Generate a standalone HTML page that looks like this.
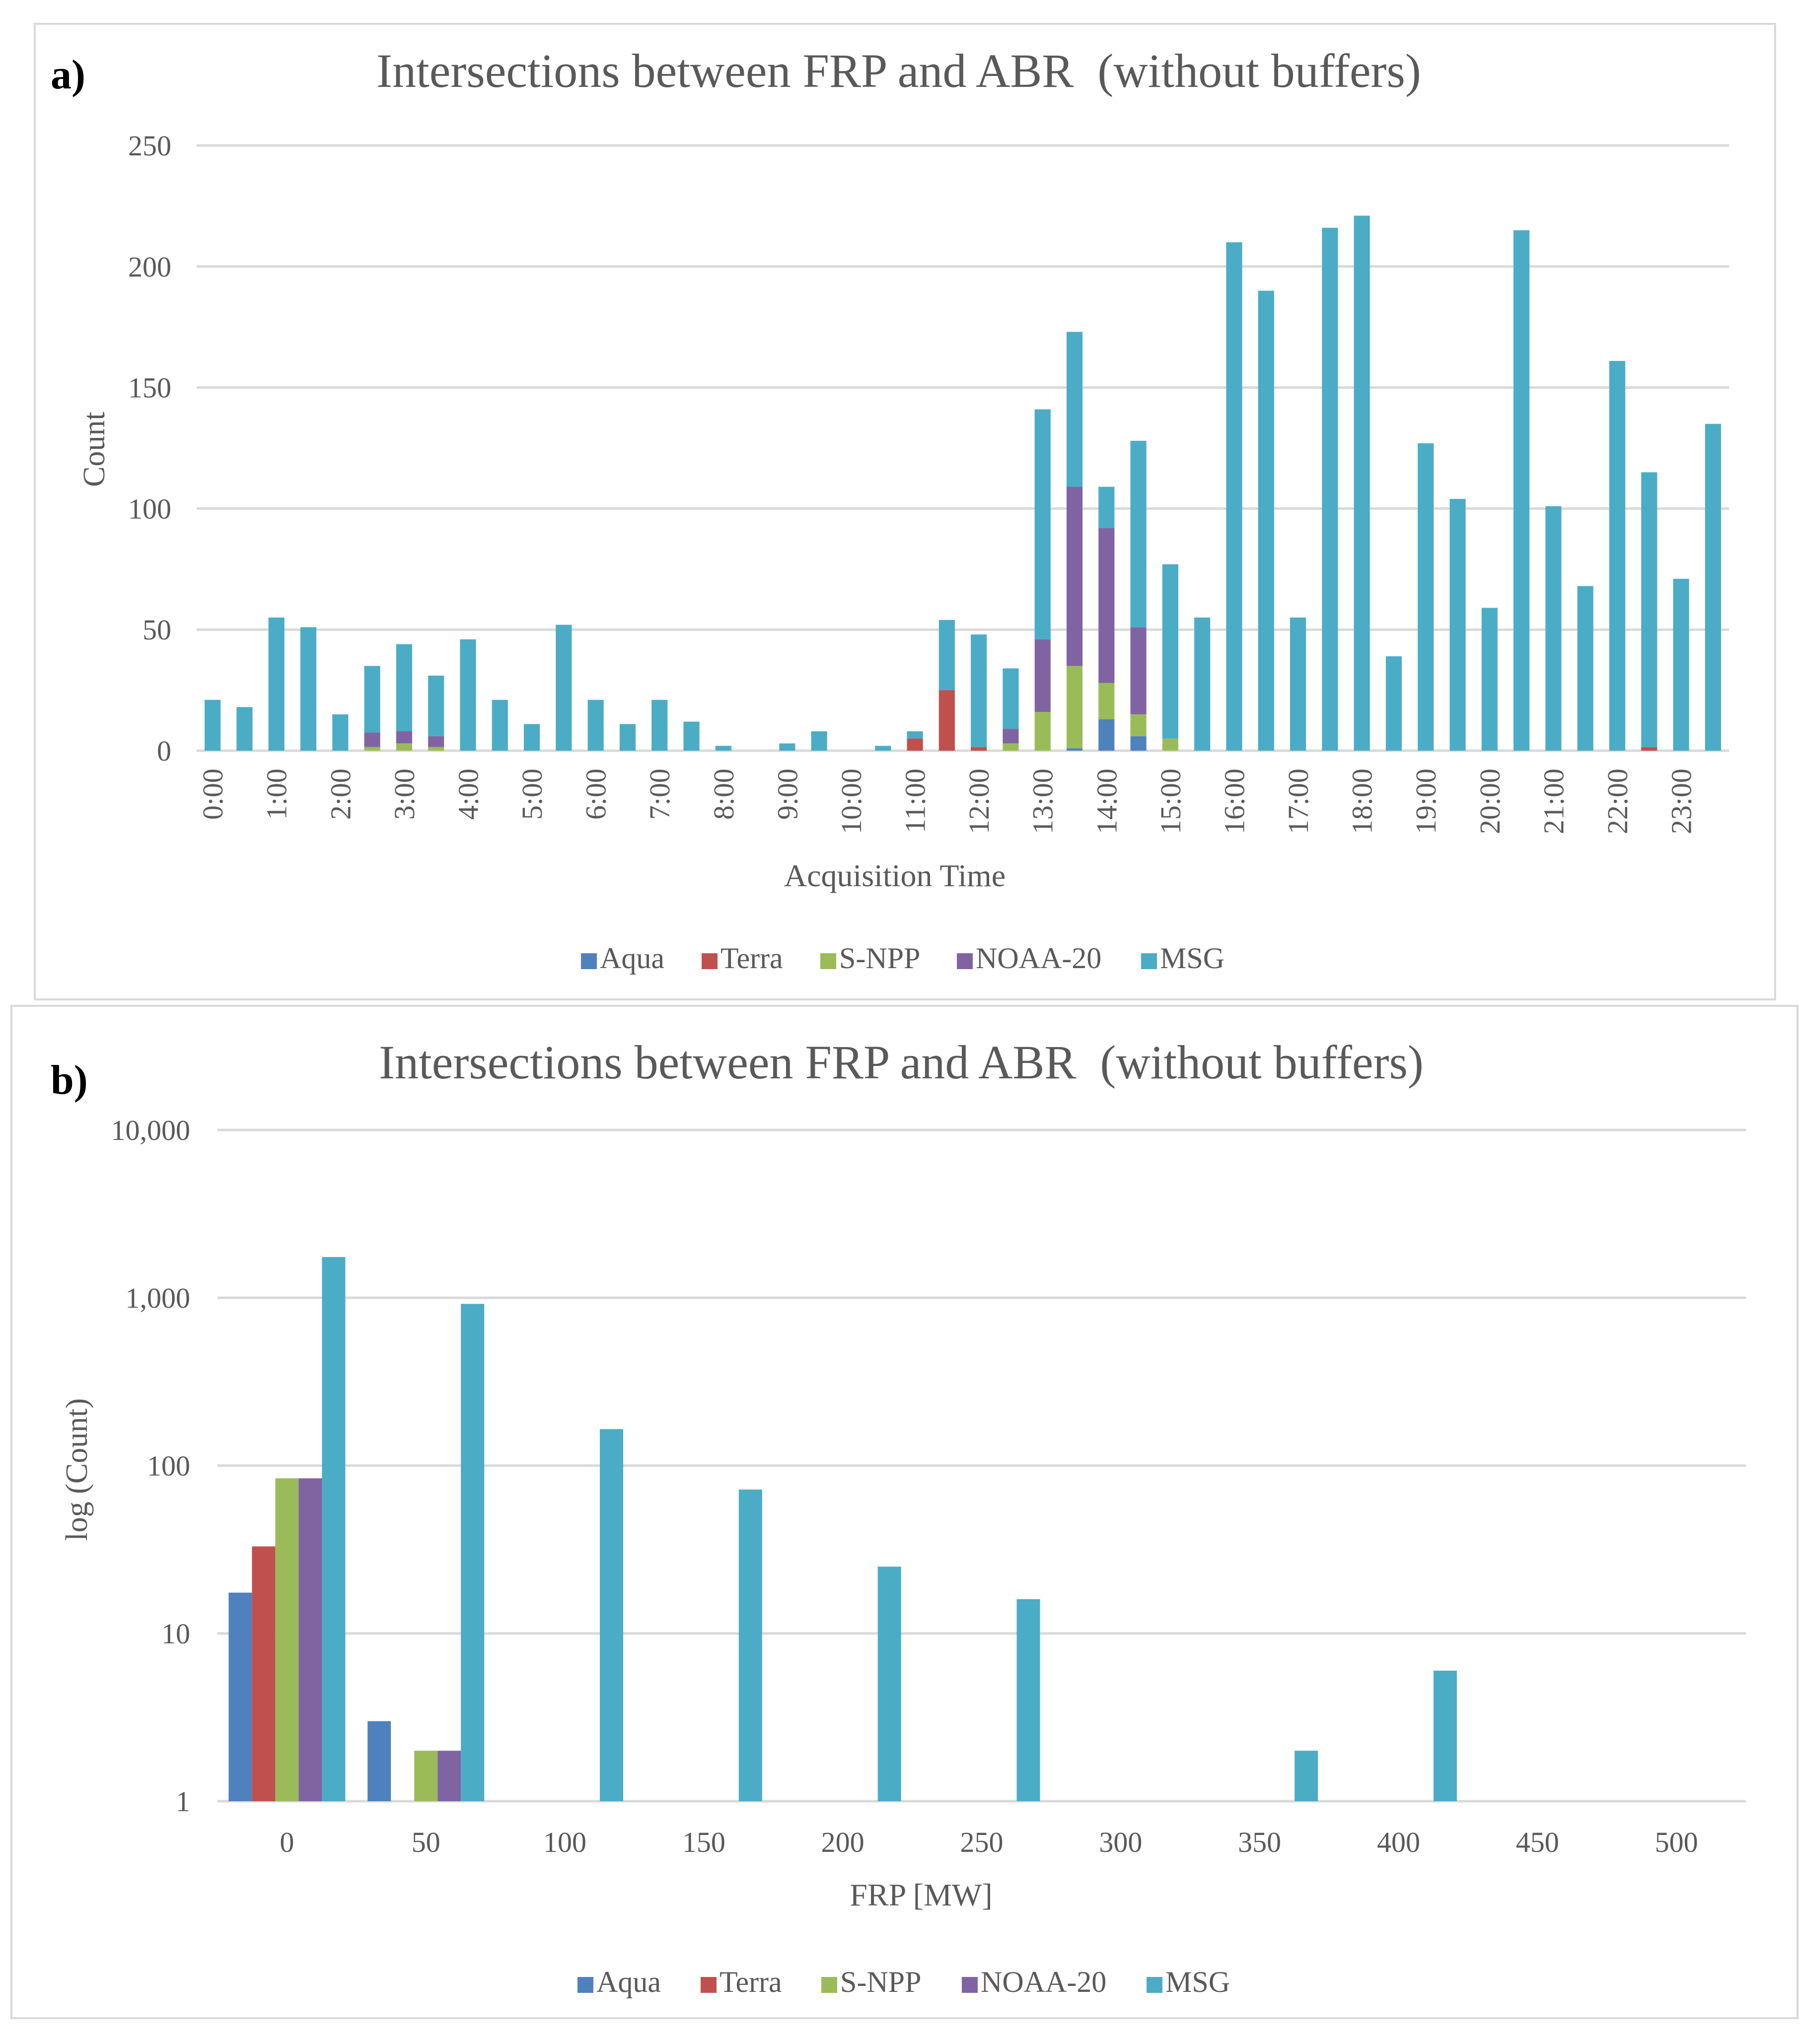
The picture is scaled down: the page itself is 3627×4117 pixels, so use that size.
<!DOCTYPE html>
<html><head><meta charset="utf-8">
<style>
html,body{margin:0;padding:0;background:#fff;}
svg text{font-family:"Liberation Serif",serif;fill:#595959;}
</style></head>
<body>
<svg id="chart" width="3627" height="4112" viewBox="0 0 3627 4112" xmlns="http://www.w3.org/2000/svg">
<rect x="0" y="0" width="3627" height="4112" fill="#fff"/>
<rect x="70" y="48" width="3505" height="1965" fill="none" stroke="#d9d9d9" stroke-width="4"/>
<rect x="23" y="2026" width="3597" height="2039" fill="none" stroke="#d9d9d9" stroke-width="4"/>
<text x="102" y="178" font-size="84" font-weight="bold" style="fill:#000">a)</text>
<text x="1810" y="175" font-size="96" text-anchor="middle" xml:space="preserve">Intersections between FRP and ABR  (without buffers)</text>
<text x="102" y="2203" font-size="84" font-weight="bold" style="fill:#000">b)</text>
<text x="1815" y="2172" font-size="96" text-anchor="middle" xml:space="preserve">Intersections between FRP and ABR  (without buffers)</text>
<g id="ga"></g>
<g id="gb"></g>
<text transform="translate(210,905) rotate(-90)" font-size="62" text-anchor="middle">Count</text>
<text x="1802" y="1785" font-size="64" text-anchor="middle">Acquisition Time</text>
<text transform="translate(175,2960) rotate(-90)" font-size="62" text-anchor="middle">log (Count)</text>
<text x="1855" y="3838" font-size="64" text-anchor="middle">FRP [MW]</text>
</svg>
<script>
// ---- Panel a data ----
const timeCats = ["0:00","0:30","1:00","1:30","2:00","2:30","3:00","3:30","4:00","4:30","5:00","5:30","6:00","6:30","7:00","7:30","8:00","8:30","9:00","9:30","10:00","10:30","11:00","11:30","12:00","12:30","13:00","13:30","14:00","14:30","15:00","15:30","16:00","16:30","17:00","17:30","18:00","18:30","19:00","19:30","20:00","20:30","21:00","21:30","22:00","22:30","23:00","23:30"];
const aAqua  = [0,0,0,0,0,0,0,0,0,0,0,0,0,0,0,0,0,0,0,0,0,0,0,0,0,0,0,1,13,6,0,0,0,0,0,0,0,0,0,0,0,0,0,0,0,0,0,0];
const aTerra = [0,0,0,0,0,0,0,0,0,0,0,0,0,0,0,0,0,0,0,0,0,0,5,25,1.5,0,0,0,0,0,0,0,0,0,0,0,0,0,0,0,0,0,0,0,0,1.5,0,0];
const aSnpp  = [0,0,0,0,0,1.5,3,1.5,0,0,0,0,0,0,0,0,0,0,0,0,0,0,0,0,0,3,16,34,15,9,5,0,0,0,0,0,0,0,0,0,0,0,0,0,0,0,0,0];
const aNoaa  = [0,0,0,0,0,6,5,4.5,0,0,0,0,0,0,0,0,0,0,0,0,0,0,0,0,0,6,30,74,64,36,0,0,0,0,0,0,0,0,0,0,0,0,0,0,0,0,0,0];
const aMsg   = [21,18,55,51,15,27.5,36,25,46,21,11,52,21,11,21,12,2,0,3,8,0,2,3,29,46.5,25,95,64,17,77,72,55,210,190,55,216,221,39,127,104,59,215,101,68,161,113.5,71,135];
const aTicks = [0,50,100,150,200,250];
// ---- Panel b data ----
const frpCats = ["0","50","100","150","200","250","300","350","400","450","500"];
const bAqua  = [17.5,3,0,0,0,0,0,0,0,0,0];
const bTerra = [33,0,0,0,0,0,0,0,0,0,0];
const bSnpp  = [84,2,0,0,0,0,0,0,0,0,0];
const bNoaa  = [84,2,0,0,0,0,0,0,0,0,0];
const bMsg   = [1750,920,165,72,25,16,0,2,6,0,0];
const bTicks = [1,10,100,1000,10000];
const bTickLabels = ["1","10","100","1,000","10,000"];
const seriesNames = ["Aqua","Terra","S-NPP","NOAA-20","MSG"];
const colors = ["#4F81BD","#C0504D","#9BBB59","#8064A2","#4BACC6"];

const NS="http://www.w3.org/2000/svg";
function mk(tag, attrs, parent){const e=document.createElementNS(NS,tag);for(const k in attrs)e.setAttribute(k,attrs[k]);parent.appendChild(e);return e;}

// ---- Panel a ----
const ga=document.getElementById('ga');
const aL=396,aR=3482,aY0=1512,aY250=293;
const ay=v=>aY0-(v/250)*(aY0-aY250);
const aBand=(aR-aL)/timeCats.length;
const ax=i=>aL+aBand*(i+0.5);
aTicks.forEach(t=>{
  const l=mk('line',{x1:aL,x2:aR,y1:ay(t),y2:ay(t),stroke:'#d9d9d9','stroke-width':5},ga);
  
  
  const tx=mk('text',{x:345,y:ay(t)+20,'font-size':58,'text-anchor':'end'},ga);
  tx.textContent=t;
  
  
});
const aSeries=[aAqua,aTerra,aSnpp,aNoaa,aMsg];
const bw=aBand*0.5;
timeCats.forEach((c,i)=>{
  let base=0;
  aSeries.forEach((s,k)=>{
    const v=s[i];
    if(v>0){
      const r=mk('rect',{x:ax(i)-bw/2,y:ay(base+v),width:bw,height:ay(base)-ay(base+v),fill:colors[k]},ga);
      
      
    }
    base+=v;
  });
  if(i%2===0){
    const t=mk('text',{transform:`translate(${ax(i)+20},1548) rotate(-90)`,'font-size':58,'text-anchor':'end'},ga);
    t.textContent=c;
    
    
  }
});
function legend(parent,y,xs,prefix){
  seriesNames.forEach((n,k)=>{
    const r=mk('rect',{x:xs[k],y:y-30,width:32,height:32,fill:colors[k]},parent);
    
    
    const t=mk('text',{x:xs[k]+38,y:y,'font-size':60},parent);
    t.textContent=n;
    
    
  });
}
legend(ga,1950,[1170,1413,1652,1927,2298],'legend-a');

// ---- Panel b ----
const gb=document.getElementById('gb');
const bL=438,bR=3516,bY1=3628,bY4=2276;
const by=v=>bY1-Math.log10(v)/4*(bY1-bY4);
const bBand=(bR-bL)/frpCats.length;
bTicks.forEach((t,j)=>{
  const l=mk('line',{x1:bL,x2:bR,y1:by(t),y2:by(t),stroke:'#d9d9d9','stroke-width':5},gb);
  
  
  const tx=mk('text',{x:383,y:by(t)+20,'font-size':58,'text-anchor':'end'},gb);
  tx.textContent=bTickLabels[j];
  
  
});
const bSeries=[bAqua,bTerra,bSnpp,bNoaa,bMsg];
const bbw=47;
frpCats.forEach((c,i)=>{
  const cx=bL+bBand*(i+0.5);
  bSeries.forEach((s,k)=>{
    const v=s[i];
    if(v>1){
      const x=cx-2.5*bbw+k*bbw;
      const r=mk('rect',{x:x,y:by(v),width:bbw,height:bY1-by(v),fill:colors[k]},gb);
      
      
    }
  });
  const t=mk('text',{x:cx,y:3730,'font-size':58,'text-anchor':'middle'},gb);
  t.textContent=c;
  
  
});
legend(gb,4012,[1163,1411,1654,1937,2309],'legend-b');
</script>
</body></html>
